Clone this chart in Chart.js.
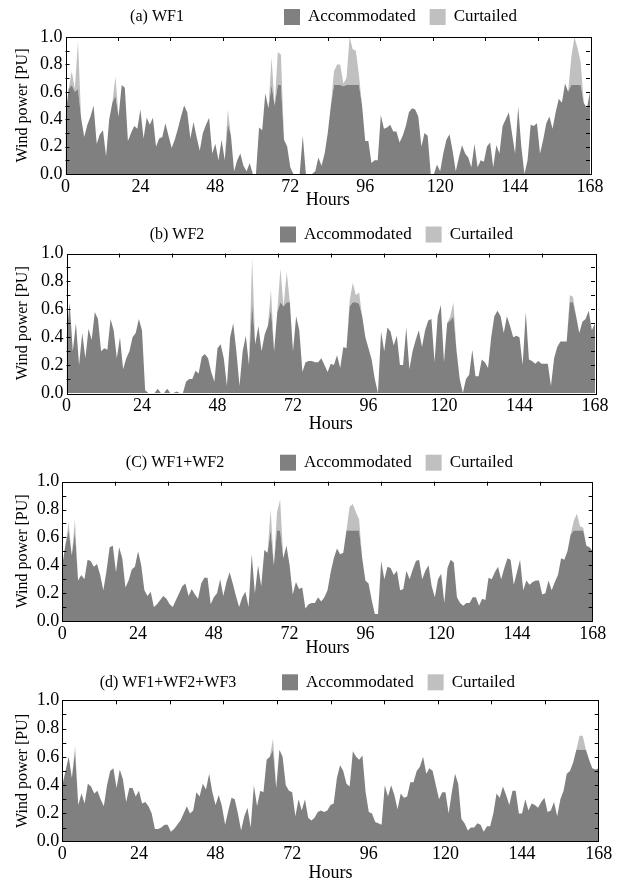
<!DOCTYPE html>
<html>
<head>
<meta charset="utf-8">
<script src="https://cdn.jsdelivr.net/npm/chart.js@4.4.0/dist/chart.umd.min.js"></script>
<style>
  html, body { margin: 0; padding: 0; background: #fff; }
  #wrap { position: relative; width: 619px; height: 883px; font-family: "Liberation Serif", serif; }
  #wrap canvas { position: absolute; left: 0; }
</style>
</head>
<body>
<div id="wrap">
  <canvas id="wf1" width="619" height="219" style="top:0px"></canvas>
  <canvas id="wf2" width="619" height="226" style="top:219px"></canvas>
  <canvas id="wf12" width="619" height="221" style="top:445px"></canvas>
  <canvas id="wf123" width="619" height="217" style="top:666px"></canvas>
</div>
<script>
// hours 0..168, one line per day below
const hours = [];
for (let h = 0; h <= 168; h++) hours.push(h);

const xTicks = [0, 24, 48, 72, 96, 120, 144, 168];
const topTicks = [16.8, 33.6, 50.4, 67.2, 84, 100.8, 117.6, 134.4, 151.2];
const yTicks = [0.1, 0.2, 0.3, 0.4, 0.5, 0.6, 0.7, 0.8, 0.9];

const wf1Acc = [
  0.42,0.62,0.65,0.60,0.62,0.41,0.27,0.36,0.42,0.50,0.22,0.29,0.32,0.13,0.40,0.52,0.57,0.42,0.65,0.63,0.24,0.30,0.35,0.33,
  0.47,0.26,0.41,0.36,0.41,0.20,0.26,0.27,0.37,0.28,0.19,0.25,0.33,0.42,0.50,0.45,0.26,0.38,0.27,0.17,0.30,0.36,0.41,0.15,
  0.22,0.10,0.25,0.10,0.37,0.28,0.02,0.10,0.15,0.06,0.02,0.08,0.00,0.00,0.34,0.32,0.59,0.48,0.65,0.50,0.65,0.65,0.25,0.20,
  0.05,0.00,0.00,0.00,0.28,0.00,0.00,0.00,0.02,0.12,0.06,0.15,0.30,0.50,0.65,0.65,0.65,0.64,0.65,0.65,0.65,0.65,0.65,0.50,
  0.24,0.24,0.08,0.10,0.10,0.43,0.33,0.34,0.36,0.31,0.31,0.23,0.28,0.35,0.45,0.48,0.47,0.42,0.20,0.30,0.28,0.00,0.00,0.07,
  0.02,0.15,0.25,0.29,0.17,0.02,0.12,0.21,0.15,0.12,0.05,0.22,0.05,0.10,0.09,0.20,0.23,0.05,0.21,0.15,0.35,0.40,0.45,0.30,
  0.15,0.49,0.20,0.00,0.10,0.36,0.35,0.37,0.15,0.25,0.37,0.42,0.33,0.45,0.55,0.52,0.66,0.60,0.65,0.65,0.65,0.65,0.52,0.48,
  0.60
];
const wf1Cur = [
  0,0,0.10,0.02,0.35,0,0,0,0,0,0,0, 0,0,0,0,0.14,0,0,0,0,0,0,0,
  0,0,0,0,0,0,0,0,0,0,0,0, 0,0,0,0,0,0,0,0,0,0,0,0,
  0,0,0,0,0.10,0,0,0,0,0,0,0, 0,0,0,0,0,0,0.20,0,0.24,0.22,0,0,
  0,0,0,0,0,0,0,0,0,0,0,0, 0,0,0.10,0.15,0.15,0.02,0.05,0.35,0.26,0.25,0.07,0,
  0,0,0,0,0,0,0,0,0,0,0,0, 0,0,0,0,0,0,0,0,0,0,0,0,
  0,0,0,0,0,0,0,0,0,0,0,0, 0,0,0,0,0,0,0,0,0,0,0,0,
  0,0,0,0,0,0,0,0,0,0,0,0, 0,0,0,0,0,0,0.20,0.35,0.27,0.17,0,0,
  0
];

const wf2Acc = [
  0.40,0.65,0.30,0.50,0.20,0.43,0.25,0.46,0.38,0.58,0.53,0.30,0.32,0.31,0.53,0.45,0.25,0.40,0.17,0.25,0.30,0.40,0.43,0.53,
  0.45,0.02,0.00,0.00,0.00,0.03,0.00,0.00,0.03,0.00,0.00,0.01,0.00,0.00,0.08,0.10,0.10,0.16,0.14,0.26,0.28,0.25,0.15,0.08,
  0.32,0.35,0.25,0.05,0.40,0.50,0.30,0.05,0.30,0.41,0.20,0.65,0.35,0.48,0.30,0.42,0.48,0.60,0.30,0.58,0.65,0.62,0.65,0.65,
  0.30,0.55,0.45,0.15,0.22,0.23,0.23,0.22,0.22,0.25,0.20,0.15,0.21,0.20,0.27,0.18,0.33,0.32,0.62,0.65,0.65,0.64,0.55,0.40,
  0.32,0.24,0.10,0.00,0.44,0.30,0.47,0.44,0.34,0.41,0.20,0.20,0.47,0.17,0.30,0.38,0.45,0.33,0.45,0.52,0.53,0.22,0.55,0.63,
  0.22,0.50,0.52,0.55,0.30,0.10,0.00,0.10,0.13,0.31,0.12,0.12,0.24,0.22,0.18,0.40,0.55,0.59,0.55,0.43,0.55,0.48,0.40,0.41,
  0.40,0.20,0.58,0.24,0.23,0.21,0.23,0.21,0.21,0.21,0.05,0.25,0.33,0.37,0.37,0.37,0.65,0.65,0.55,0.43,0.51,0.53,0.59,0.45,
  0.50
];
const wf2Cur = [
  0,0,0,0,0,0,0,0,0,0,0,0, 0,0,0,0,0,0,0,0,0,0,0,0,
  0,0,0,0,0,0,0,0,0,0,0,0, 0,0,0,0,0,0,0,0,0,0,0,0,
  0,0,0,0,0,0,0,0,0,0,0,0.32, 0,0,0,0,0,0.14,0,0,0.24,0,0.22,0,
  0,0,0,0,0,0,0,0,0,0,0,0, 0,0,0,0,0,0,0.04,0.14,0.05,0.08,0,0,
  0,0,0,0,0,0,0,0,0,0,0,0, 0,0,0,0,0,0,0,0,0,0,0,0,
  0,0,0.03,0.10,0,0,0,0,0,0,0,0, 0,0,0,0,0,0,0,0,0,0,0,0,
  0,0,0,0,0,0,0,0,0,0,0,0, 0,0,0,0,0.05,0.04,0,0,0,0,0,0,
  0
];

const wf12Acc = [
  0.40,0.55,0.65,0.47,0.64,0.29,0.33,0.30,0.44,0.43,0.39,0.41,0.33,0.22,0.36,0.53,0.54,0.35,0.53,0.45,0.24,0.29,0.37,0.39,
  0.50,0.40,0.22,0.18,0.21,0.10,0.12,0.15,0.18,0.16,0.12,0.10,0.15,0.20,0.25,0.27,0.18,0.23,0.19,0.16,0.27,0.31,0.31,0.12,
  0.17,0.20,0.30,0.18,0.28,0.35,0.27,0.18,0.10,0.17,0.21,0.10,0.48,0.20,0.40,0.25,0.51,0.49,0.65,0.40,0.65,0.65,0.45,0.54,
  0.40,0.19,0.28,0.23,0.24,0.09,0.12,0.13,0.13,0.17,0.14,0.17,0.22,0.35,0.45,0.52,0.48,0.49,0.65,0.65,0.65,0.65,0.65,0.45,
  0.29,0.27,0.15,0.05,0.05,0.43,0.30,0.39,0.38,0.33,0.36,0.22,0.23,0.36,0.30,0.37,0.43,0.44,0.30,0.36,0.40,0.25,0.17,0.30,
  0.34,0.13,0.38,0.44,0.42,0.17,0.13,0.11,0.13,0.13,0.17,0.17,0.11,0.16,0.15,0.31,0.30,0.35,0.39,0.30,0.38,0.45,0.44,0.26,
  0.35,0.44,0.22,0.29,0.26,0.28,0.29,0.29,0.19,0.20,0.29,0.22,0.28,0.33,0.45,0.44,0.50,0.62,0.65,0.65,0.65,0.65,0.54,0.53,
  0.50
];
const wf12Cur = [
  0,0,0.06,0,0.09,0,0,0,0,0,0,0, 0,0,0,0,0,0,0,0,0,0,0,0,
  0,0,0,0,0,0,0,0,0,0,0,0, 0,0,0,0,0,0,0,0,0,0,0,0,
  0,0,0,0,0,0,0,0,0,0,0,0, 0,0,0,0,0,0,0.15,0,0.13,0.22,0,0,
  0,0,0,0,0,0,0,0,0,0,0,0, 0,0,0,0,0,0,0,0.17,0.19,0.13,0.08,0,
  0,0,0,0,0,0,0,0,0,0,0,0, 0,0,0,0,0,0,0,0,0,0,0,0,
  0,0,0,0,0,0,0,0,0,0,0,0, 0,0,0,0,0,0,0,0,0,0,0,0,
  0,0,0,0,0,0,0,0,0,0,0,0, 0,0,0,0,0,0,0.07,0.12,0.03,0.02,0,0,
  0
];

const wf123Acc = [
  0.40,0.50,0.60,0.45,0.64,0.26,0.34,0.27,0.41,0.39,0.34,0.36,0.30,0.25,0.40,0.50,0.52,0.38,0.51,0.44,0.28,0.38,0.38,0.32,
  0.36,0.27,0.28,0.25,0.20,0.09,0.09,0.10,0.12,0.12,0.07,0.09,0.12,0.15,0.20,0.25,0.20,0.22,0.35,0.32,0.41,0.37,0.48,0.35,
  0.26,0.33,0.25,0.12,0.22,0.31,0.30,0.20,0.08,0.18,0.24,0.10,0.40,0.25,0.36,0.35,0.58,0.60,0.65,0.38,0.65,0.60,0.40,0.36,
  0.35,0.18,0.30,0.22,0.30,0.17,0.15,0.17,0.21,0.22,0.21,0.22,0.26,0.27,0.45,0.54,0.50,0.41,0.39,0.64,0.60,0.58,0.61,0.35,
  0.21,0.20,0.14,0.13,0.12,0.40,0.32,0.40,0.33,0.23,0.34,0.31,0.32,0.42,0.42,0.50,0.53,0.60,0.48,0.52,0.50,0.40,0.30,0.35,
  0.35,0.20,0.35,0.48,0.41,0.16,0.13,0.08,0.10,0.10,0.13,0.12,0.07,0.11,0.11,0.20,0.34,0.31,0.39,0.33,0.26,0.36,0.36,0.20,
  0.20,0.30,0.22,0.27,0.26,0.24,0.28,0.31,0.21,0.22,0.28,0.18,0.30,0.36,0.48,0.50,0.56,0.65,0.65,0.65,0.65,0.58,0.52,0.51,
  0.52
];
const wf123Cur = [
  0,0,0,0,0.04,0,0,0,0,0,0,0, 0,0,0,0,0,0,0,0,0,0,0,0,
  0,0,0,0,0,0,0,0,0,0,0,0, 0,0,0,0,0,0,0,0,0,0,0,0,
  0,0,0,0,0,0,0,0,0,0,0,0, 0,0,0,0,0,0,0.08,0,0,0,0,0,
  0,0,0,0,0,0,0,0,0,0,0,0, 0,0,0,0,0,0,0,0,0,0,0,0,
  0,0,0,0,0,0,0,0,0,0,0,0, 0,0,0,0,0,0,0,0,0,0,0,0,
  0,0,0,0,0,0,0,0,0,0,0,0, 0,0,0,0,0,0,0,0,0,0,0,0,
  0,0,0,0,0,0,0,0,0,0,0,0, 0,0,0,0,0,0,0.10,0.10,0,0,0,0,
  0
];

const ACC_COLOR = "#808080";
const CUR_COLOR = "#c0c0c0";
const FONT = '"Liberation Serif", "Times New Roman", serif';

Chart.defaults.font.family = FONT;
Chart.defaults.font.size = 18;
Chart.defaults.color = "#000";

// box + inward ticks
const framePlugin = {
    id: "frame",
    afterDatasetsDraw(chart) {
        const { ctx, chartArea: a, scales: { x, y } } = chart;
        ctx.save();
        ctx.strokeStyle = "#000";
        ctx.lineWidth = 1;
        ctx.beginPath();
        for (const v of yTicks) {
            const py = Math.round(y.getPixelForValue(v)) + 0.5;
            ctx.moveTo(a.left, py); ctx.lineTo(a.left + 4, py);
            ctx.moveTo(a.right, py); ctx.lineTo(a.right - 4, py);
        }
        for (const h of topTicks) {
            const px = Math.round(x.getPixelForValue(h)) + 0.5;
            ctx.moveTo(px, a.top); ctx.lineTo(px, a.top + 4);
        }
        ctx.stroke();
        ctx.strokeRect(Math.round(a.left) + 0.5, Math.round(a.top) + 0.5,
            Math.round(a.right - a.left), Math.round(a.bottom - a.top));
        ctx.restore();
    }
};

// panel title + legend on one row above the plot
const headerPlugin = {
    id: "header",
    afterDraw(chart, args, opts) {
        const { ctx, chartArea: a } = chart;
        const cy = a.top - opts.gap;
        ctx.save();
        ctx.textBaseline = "middle";
        ctx.fillStyle = "#000";
        ctx.textAlign = "center";
        ctx.font = "16px " + FONT;
        ctx.fillText(opts.title, opts.titleX, cy);
        ctx.textAlign = "left";
        ctx.font = "17px " + FONT;
        let lx = opts.legendX;
        chart.data.datasets.forEach((ds) => {
            ctx.fillStyle = ds.backgroundColor;
            ctx.fillRect(lx, cy - 8, 16, 16);
            lx += 16 + 8;
            ctx.fillStyle = "#000";
            ctx.fillText(ds.label, lx, cy);
            lx += ctx.measureText(ds.label).width + 14;
        });
        ctx.restore();
    }
};

function drawPanel(id, title, acc, cur, box) {
    const canvas = document.getElementById(id);
    const top = parseInt(canvas.style.top, 10);
    const H = canvas.height;
    const xAxisH = box.hours;

    new Chart(canvas, {
        type: "line",
        data: {
            labels: hours,
            datasets: [
                {
                    label: "Accommodated",
                    data: acc,
                    backgroundColor: ACC_COLOR,
                    borderWidth: 0,
                    pointRadius: 0,
                    tension: 0,
                    fill: "origin"
                },
                {
                    label: "Curtailed",
                    data: cur,
                    backgroundColor: CUR_COLOR,
                    borderWidth: 0,
                    pointRadius: 0,
                    tension: 0,
                    fill: "-1"
                }
            ]
        },
        options: {
            responsive: false,
            animation: false,
            layout: {
                padding: {
                    left: 0,
                    top: box.top - top,
                    right: 619 - box.right,
                    bottom: H - (box.bottom - top) - xAxisH
                }
            },
            plugins: {
                legend: { display: false },
                tooltip: { enabled: false },
                header: { title: title, titleX: box.titleX, legendX: box.legendX, gap: box.gap }
            },
            scales: {
                x: {
                    type: "linear",
                    min: 0,
                    max: 168,
                    afterFit: (s) => { s.height = xAxisH; },
                    afterBuildTicks: (s) => { s.ticks = xTicks.map((v) => ({ value: v })); },
                    grid: { display: false, drawTicks: false },
                    border: { display: false },
                    ticks: { padding: 2, maxRotation: 0, autoSkip: false },
                    title: { display: true, text: "Hours", padding: { top: 0, bottom: 0 } }
                },
                y: {
                    min: 0,
                    max: 1,
                    stacked: true,
                    afterFit: (s) => { s.width = box.left; },
                    grid: { display: false, drawTicks: false },
                    border: { display: false },
                    ticks: {
                        stepSize: 0.2,
                        padding: 3,
                        callback: (value) => value.toFixed(1)
                    },
                    title: {
                        display: true,
                        text: "Wind power [PU]",
                        font: { size: 16 },
                        padding: { top: 13, bottom: 0 }
                    }
                }
            }
        },
        plugins: [framePlugin, headerPlugin]
    });
}

function drawAll() {
    drawPanel("wf1", "(a) WF1", wf1Acc, wf1Cur,
        { left: 65.5, right: 590, top: 37, bottom: 174, hours: 37, titleX: 157, legendX: 284, gap: 20 });
    drawPanel("wf2", "(b) WF2", wf2Acc, wf2Cur,
        { left: 66.5, right: 595, top: 253.5, bottom: 393, hours: 42, titleX: 177, legendX: 280, gap: 19 });
    drawPanel("wf12", "(C) WF1+WF2", wf12Acc, wf12Cur,
        { left: 62.3, right: 592.7, top: 481.7, bottom: 621, hours: 38, titleX: 175, legendX: 280, gap: 19 });
    drawPanel("wf123", "(d) WF1+WF2+WF3", wf123Acc, wf123Cur,
        { left: 62.3, right: 598.7, top: 700.3, bottom: 841.7, hours: 42, titleX: 168, legendX: 282, gap: 18 });
}

if (document.fonts && document.fonts.load) {
    document.fonts.load('16px "Liberation Serif"').then(drawAll, drawAll);
} else {
    drawAll();
}
</script>
</body>
</html>
